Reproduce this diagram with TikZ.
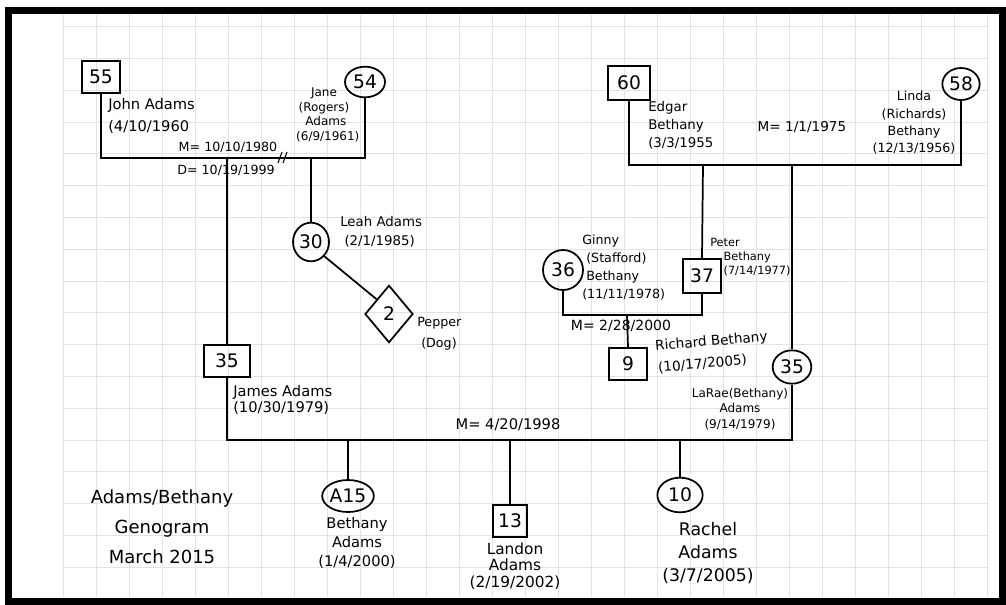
\documentclass[tikz,border=0pt]{standalone}
\usepackage{fontspec}
\setmainfont{DejaVu Sans}
\usetikzlibrary{shapes.geometric,positioning}

\begin{document}
\begin{tikzpicture}[x=0.75pt, y=-0.75pt,
  pen/.style={line width=1.3pt},
  gridline/.style={line width=0.5pt, gray!22},
  male/.style={draw, pen, minimum width=29pt, minimum height=24pt, inner sep=1pt,
               font=\fontsize{14}{14}\selectfont},
  female/.style={draw, pen, ellipse, minimum width=29pt, minimum height=25pt, inner sep=0pt,
                 font=\fontsize{14}{14}\selectfont},
  pet/.style={draw, pen, diamond, minimum width=36pt, minimum height=43pt, inner sep=0pt,
              font=\fontsize{14}{14}\selectfont},
  lbl/.style={inner sep=0pt, align=left, font=\fontsize{10}{14}\selectfont},
  sml/.style={inner sep=0pt, align=center, font=\fontsize{9}{11}\selectfont},
  title/.style={inner sep=0pt, align=center, font=\fontsize{13.5}{22.5}\selectfont}
]
\useasboundingbox (0,0) rectangle (1006,604);

% ======= Paper =======
\foreach \gx in {0,...,28}
  \draw[gridline] (63+33*\gx,14) -- (63+33*\gx,597);
\foreach \gy in {1,...,18}
  \draw[gridline] (63,599-31.8*\gy) -- (987,599-31.8*\gy);
\draw[line width=5.3pt] (8.5,10.5) rectangle (1002.5,601.5);

% ======= Adams grandparents =======
\node[male] (john) at (101,77) {55};
\node[female, minimum width=30pt, minimum height=23pt] (jane) at (365,82) {54};
\node[lbl, anchor=west, font=\fontsize{11}{17}\selectfont] (johnlbl) at (108,116) {John Adams\\(4/10/1960};
\node[sml] (janelbl) at (324,115) {Jane\\(Rogers)\\\ Adams\\\ \ (6/9/1961)};
\coordinate (m1) at (227,158);
\draw[pen] (john.south) |- (m1) -| (jane.south);
\node[lbl, font=\fontsize{9.5}{12}\selectfont] (m1lbl) at (228,147) {M= 10/10/1980};
\node[lbl, font=\fontsize{9.5}{12}\selectfont] (d1lbl) at (226,170) {D= 10/19/1999};
\draw[line width=0.8pt] (278,163) -- (282,152) (283,163) -- (287,152);

% ======= Leah and Pepper =======
\node[female, minimum width=27pt, minimum height=29pt] (leah) at (311,242) {30};
\draw[pen] (leah.north) -- (leah.north |- m1);
\node[lbl, anchor=west] (leahlbl) at (340,232) {Leah Adams\\\ (2/1/1985)};
\node[pet] (pepper) at (389,314) {2};
\draw[pen] (leah.south east) -- (pepper.north west);
\node[lbl, anchor=west, font=\fontsize{9.5}{16}\selectfont] (pepperlbl) at (417,334) {Pepper\\\ (Dog)};

% ======= James =======
\node[male, minimum width=34pt] (james) at (227,361) {35};
\draw[pen] (m1) -- (james.north);
\node[lbl, anchor=west, font=\fontsize{11}{12}\selectfont] (jameslbl) at (233,400) {James Adams\\(10/30/1979)};

% ======= Bethany grandparents =======
\node[male, minimum width=31pt, minimum height=25pt] (edgar) at (629,83) {60};
\node[female, minimum width=28pt, minimum height=24pt] (linda) at (961,84) {58};
\coordinate (m2) at (703,165);
\draw[pen] (edgar.south) |- (m2) -| (linda.south);
\node[lbl, anchor=west, font=\fontsize{10}{13.5}\selectfont] (edgarlbl) at (648,125) {Edgar\\Bethany\\(3/3/1955};
\node[lbl, font=\fontsize{10.2}{12}\selectfont] (m2lbl) at (802,127) {M= 1/1/1975};
\node[sml, font=\fontsize{9.5}{13}\selectfont] (lindalbl) at (914,123) {Linda\\(Richards)\\Bethany\\(12/13/1956)};

% ======= Peter and Ginny =======
\node[male, minimum width=28pt, minimum height=26pt] (peter) at (702,276) {37};
\draw[pen] (peter.north) -- (m2);
\node[sml, anchor=west, align=left, font=\fontsize{8.5}{10.5}\selectfont] (peterlbl) at (710,257)
  {Peter\\\hspace*{10pt}Bethany\\\hspace*{10pt}(7/14/1977)};
\node[female, minimum width=30pt, minimum height=30pt] (ginny) at (563,270) {36};
\coordinate (m3) at (627,315);
\draw[pen] (ginny.south) |- (m3) -| (peter.south);
\node[sml, anchor=west, align=left, font=\fontsize{9.5}{13.5}\selectfont] (ginnylbl) at (582,268)
  {Ginny\\\ (Stafford)\\\ Bethany\\(11/11/1978)};
\node[lbl, font=\fontsize{10.5}{12}\selectfont] (m3lbl) at (621,326) {M= 2/28/2000};
\node[male] (richard) at (628,364) {9};
\draw[pen] (m3) -- (richard.north);
\node[lbl, anchor=west, rotate=5, font=\fontsize{10.2}{14}\selectfont] (richardlbl) at (655,347) {Richard Bethany};
\node[lbl, anchor=west, rotate=5, font=\fontsize{10.2}{14}\selectfont] (richarddob) at (658,368) {(10/17/2005)};

% ======= LaRae =======
\node[female, minimum width=29pt, minimum height=25pt] (larae) at (792,367) {35};
\draw[pen] (larae.north) -- (larae.north |- m2);
\node[sml, font=\fontsize{9}{11.5}\selectfont] (laraelbl) at (740,409) {LaRae(Bethany)\\Adams\\(9/14/1979)};
\coordinate (m4) at (510,440);
\draw[pen] (james.south) |- (m4) -| (larae.south);
\node[lbl, font=\fontsize{11}{12}\selectfont] (m4lbl) at (508,425) {M= 4/20/1998};

% ======= Children =======
\node[female, minimum width=32pt, minimum height=24pt] (bethany) at (348,496) {A15};
\draw[pen] (bethany.north) -- (bethany.north |- m4);
\node[lbl, align=center, font=\fontsize{11}{14}\selectfont] (bethanylbl) at (357,543) {Bethany\\Adams\\(1/4/2000)};
\node[male, minimum width=26pt] (landon) at (510,521) {13};
\draw[pen] (landon.north) -- (m4);
\node[lbl, align=center, font=\fontsize{11.5}{12.5}\selectfont] (landonlbl) at (515,566) {Landon\\Adams\\(2/19/2002)};
\node[female, minimum width=34pt, minimum height=26pt] (rachel) at (680,495) {10};
\draw[pen] (rachel.north) -- (rachel.north |- m4);
\node[lbl, align=center, font=\fontsize{13}{17}\selectfont] (rachellbl) at (708,553) {Rachel\\Adams\\(3/7/2005)};

% ======= Title =======
\node[title] (title) at (162,527) {Adams/Bethany\\Genogram\\March 2015};

\end{tikzpicture}
\end{document}
